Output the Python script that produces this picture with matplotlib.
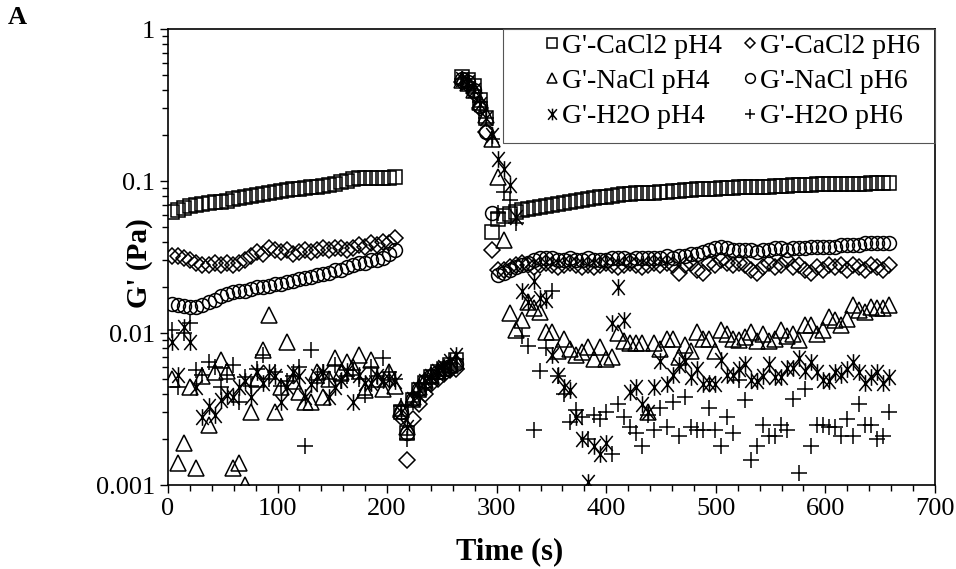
import matplotlib
matplotlib.use('Agg')
import matplotlib.pyplot as plt
import numpy as np
from matplotlib.path import Path
from matplotlib.patches import Rectangle
from matplotlib.ticker import FixedLocator, MultipleLocator, NullFormatter

plt.rcParams['font.family'] = ['Liberation Serif', 'DejaVu Serif']

# sampling times (s), one point every 5.5 s
time_s = np.arange(4, 660, 5.5)

# G' (Pa) for each sample
cacl2_ph4 = [0.063, 0.064, 0.066, 0.068, 0.070, 0.071, 0.072, 0.073, 0.073, 0.074,
             0.076, 0.077, 0.079, 0.080, 0.081, 0.082, 0.083, 0.085, 0.086, 0.087,
             0.088, 0.089, 0.090, 0.091, 0.092, 0.093, 0.094, 0.096, 0.098, 0.100,
             0.103, 0.104, 0.104, 0.104, 0.105, 0.105, 0.105, 0.106,
             0.0030, 0.0022, 0.0036, 0.0042, 0.0047, 0.0051, 0.0055, 0.0058, 0.0062, 0.0066,
             0.48, 0.46, 0.42, 0.34, 0.26, 0.046, 0.056, 0.059, 0.061, 0.063,
             0.064, 0.065, 0.066, 0.067, 0.069, 0.070, 0.071, 0.072, 0.073, 0.074,
             0.075, 0.076, 0.077, 0.078, 0.079, 0.080, 0.081, 0.082, 0.082, 0.083,
             0.083, 0.084, 0.084, 0.085, 0.085, 0.086, 0.086, 0.087, 0.087, 0.088,
             0.088, 0.089, 0.089, 0.090, 0.090, 0.090, 0.091, 0.091, 0.091, 0.092,
             0.092, 0.092, 0.093, 0.093, 0.093, 0.094, 0.094, 0.094, 0.094, 0.095,
             0.095, 0.095, 0.095, 0.096, 0.096, 0.096, 0.096, 0.096, 0.097, 0.097,
             0.097, 0.097]

cacl2_ph6 = [0.032, 0.032, 0.031, 0.030, 0.029, 0.028, 0.028, 0.029, 0.028, 0.029,
             0.028, 0.029, 0.030, 0.032, 0.034, 0.033, 0.036, 0.035, 0.034, 0.035,
             0.033, 0.034, 0.035, 0.034, 0.035, 0.036, 0.035, 0.036, 0.036, 0.035,
             0.036, 0.038, 0.037, 0.039, 0.038, 0.040, 0.039, 0.042,
             0.0028, 0.00145, 0.0027, 0.0034, 0.0040, 0.0046, 0.0050, 0.0054, 0.0057, 0.0058,
             0.45, 0.43, 0.38, 0.30, 0.21, 0.035, 0.026, 0.026, 0.027, 0.028,
             0.029, 0.028, 0.027, 0.028, 0.029, 0.028, 0.027, 0.028, 0.029, 0.028,
             0.027, 0.028, 0.027, 0.028, 0.029, 0.028, 0.027, 0.028, 0.029, 0.028,
             0.027, 0.028, 0.029, 0.028, 0.029, 0.028, 0.025, 0.028, 0.029, 0.026,
             0.025, 0.029, 0.028, 0.030, 0.029, 0.028, 0.029, 0.028, 0.026, 0.025,
             0.027, 0.029, 0.027, 0.028, 0.030, 0.027, 0.028, 0.026, 0.025, 0.027,
             0.026, 0.028, 0.027, 0.028, 0.026, 0.028, 0.027, 0.026, 0.028, 0.027,
             0.026, 0.028]

nacl_ph4 = [0.0050, 0.0014, 0.0019, 0.0044, 0.0013, 0.0052, 0.0025, 0.0055, 0.0066, 0.0056,
            0.0013, 0.0014, 0.0010, 0.0030, 0.0050, 0.0077, 0.0132, 0.0030, 0.0044, 0.0087,
            0.0048, 0.0041, 0.0035, 0.0035, 0.0055, 0.0038, 0.0050, 0.0068, 0.0055, 0.0064,
            0.0060, 0.0072, 0.0042, 0.0066, 0.0050, 0.0043, 0.0055, 0.0045,
            0.0032, 0.0024, 0.0038, 0.0044, 0.0049, 0.0053, 0.0056, 0.0059, 0.0062, 0.0065,
            0.46, 0.44, 0.40, 0.33, 0.27, 0.19, 0.106, 0.041, 0.0135, 0.0105,
            0.0122, 0.0160, 0.0145, 0.0138, 0.0102, 0.0102, 0.0076, 0.0091, 0.0078, 0.0072,
            0.0075, 0.0081, 0.0067, 0.0081, 0.0067, 0.0070, 0.0100, 0.0088, 0.0086, 0.0086,
            0.0086, 0.0030, 0.0086, 0.0078, 0.0091, 0.0091, 0.0070, 0.0084, 0.0076, 0.0102,
            0.0091, 0.0091, 0.0076, 0.0105, 0.0098, 0.0092, 0.0090, 0.0094, 0.0101, 0.0088,
            0.0098, 0.0088, 0.0092, 0.0105, 0.0095, 0.0098, 0.0090, 0.0113, 0.0113, 0.0098,
            0.0105, 0.0128, 0.0122, 0.0113, 0.0123, 0.0152, 0.0142, 0.0138, 0.0148, 0.0145,
            0.0145, 0.0152]

nacl_ph6 = [0.0155, 0.0152, 0.0150, 0.0148, 0.0148, 0.0152, 0.0160, 0.0165, 0.0175, 0.0180,
            0.0185, 0.0190, 0.0190, 0.0195, 0.0200, 0.0200, 0.0205, 0.0210, 0.0210, 0.0215,
            0.0220, 0.0225, 0.0230, 0.0235, 0.0240, 0.0245, 0.0250, 0.0260, 0.0260, 0.0270,
            0.0280, 0.0290, 0.0290, 0.0300, 0.0300, 0.0310, 0.0330, 0.0350,
            0.0030, 0.0022, 0.0037, 0.0043, 0.0048, 0.0052, 0.0055, 0.0058, 0.0061, 0.0063,
            0.47, 0.45, 0.40, 0.31, 0.21, 0.062, 0.024, 0.025, 0.026, 0.027,
            0.028, 0.029, 0.030, 0.031, 0.031, 0.031, 0.030, 0.030, 0.031, 0.030,
            0.030, 0.031, 0.030, 0.030, 0.030, 0.031, 0.031, 0.031, 0.030, 0.031,
            0.031, 0.031, 0.031, 0.031, 0.032, 0.031, 0.032, 0.032, 0.033, 0.033,
            0.034, 0.035, 0.036, 0.037, 0.036, 0.035, 0.035, 0.035, 0.035, 0.034,
            0.035, 0.035, 0.036, 0.036, 0.035, 0.036, 0.036, 0.036, 0.037, 0.037,
            0.037, 0.037, 0.037, 0.038, 0.038, 0.038, 0.038, 0.039, 0.039, 0.039,
            0.039, 0.039]

h2o_ph4 = [0.0087, 0.0053, 0.0109, 0.0087, 0.0044, 0.0028, 0.0033, 0.0029, 0.0036, 0.0039,
           0.0038, 0.0044, 0.0048, 0.0038, 0.0055, 0.0047, 0.0055, 0.0052, 0.0035, 0.0044,
           0.0055, 0.0052, 0.0038, 0.0046, 0.0052, 0.0055, 0.0038, 0.0044, 0.0049, 0.0056,
           0.0035, 0.0053, 0.0047, 0.0047, 0.0052, 0.0049, 0.0050, 0.0048,
           0.0030, 0.0024, 0.0037, 0.0043, 0.0048, 0.0052, 0.0056, 0.0060, 0.0065, 0.0072,
           0.47, 0.45, 0.40, 0.32, 0.26, 0.20, 0.14, 0.12, 0.094, 0.058,
           0.019, 0.016, 0.022, 0.017, 0.0166, 0.0072, 0.0053, 0.0044, 0.0042, 0.0028,
           0.0020, 0.00105, 0.0018, 0.0016, 0.0019, 0.0117, 0.020, 0.0122, 0.0041, 0.0044,
           0.0034, 0.0030, 0.0044, 0.0065, 0.0046, 0.0053, 0.0062, 0.0065, 0.0051, 0.0058,
           0.0046, 0.0047, 0.0046, 0.0066, 0.0053, 0.0053, 0.0058, 0.0063, 0.0049, 0.0048,
           0.0052, 0.0063, 0.0051, 0.0051, 0.0059, 0.0059, 0.0068, 0.0056, 0.0064, 0.0055,
           0.0049, 0.0048, 0.0055, 0.0053, 0.0058, 0.0064, 0.0055, 0.0047, 0.0051, 0.0055,
           0.0047, 0.0051]

h2o_ph6 = [0.0105, 0.0044, 0.0100, 0.0117, 0.0057, 0.0053, 0.0064, 0.0060, 0.0044, 0.0053,
           0.0062, 0.0035, 0.0051, 0.0045, 0.0058, 0.0072, 0.0050, 0.0055, 0.0045, 0.0048,
           0.0052, 0.0060, 0.0018, 0.0077, 0.0047, 0.0055, 0.0050, 0.0062, 0.0048, 0.0052,
           0.0057, 0.0050, 0.0039, 0.0060, 0.0052, 0.0069, 0.0055, 0.0050,
           0.0033, 0.0020, 0.0035, 0.0041, 0.0046, 0.0051, 0.0055, 0.0059, 0.0063, 0.0067,
           0.47, 0.45, 0.40, 0.33, 0.26, 0.19, 0.062, 0.085, 0.075, 0.053,
           0.0095, 0.0082, 0.0023, 0.0056, 0.0080, 0.019, 0.0052, 0.0040, 0.0026, 0.0031,
           0.0028, 0.0020, 0.0029, 0.0027, 0.0030, 0.0016, 0.0034, 0.0028, 0.0024, 0.0022,
           0.0018, 0.0029, 0.0023, 0.0032, 0.0024, 0.0035, 0.0021, 0.0038, 0.0024, 0.0023,
           0.0023, 0.0032, 0.0023, 0.0018, 0.0028, 0.0022, 0.0049, 0.0036, 0.00145, 0.0018,
           0.0025, 0.0021, 0.0021, 0.0025, 0.0023, 0.0037, 0.0012, 0.0043, 0.0018, 0.0025,
           0.0025, 0.0024, 0.0024, 0.0021, 0.0027, 0.0021, 0.0034, 0.0025, 0.0025, 0.0020,
           0.0021, 0.0030]

labels = ["G'-CaCl2 pH4", "G'-CaCl2 pH6", "G'-NaCl pH4",
          "G'-NaCl pH6", "G'-H2O pH4", "G'-H2O pH6"]

# asterisk marker: vertical bar plus an X
star = Path([(0, -1), (0, 1), (-0.75, -0.9), (0.75, 0.9), (-0.75, 0.9), (0.75, -0.9)],
            [Path.MOVETO, Path.LINETO] * 3)

series = [
    (cacl2_ph4, 's', 10),
    (cacl2_ph6, 'D', 8),
    (nacl_ph4, '^', 11),
    (nacl_ph6, 'o', 10),
    (h2o_ph4, star, 12),
    (h2o_ph6, '+', 11),
]

fig = plt.figure(figsize=(9.56, 5.69), dpi=100)
ax = fig.add_axes([0.1757, 0.1476, 0.8023, 0.8014])

handles = {}
for (vals, mk, ms), lab in zip(series, labels):
    ln, = ax.plot(time_s, vals, linestyle='none', marker=mk, markersize=ms,
                  markerfacecolor='none', markeredgecolor='black',
                  markeredgewidth=1.1, label=lab)
    handles[lab] = ln

ax.set_yscale('log')
ax.set_xlim(0, 700)
ax.set_ylim(0.001, 1)
ax.xaxis.set_major_locator(MultipleLocator(100))
ax.xaxis.set_minor_locator(MultipleLocator(20))
ax.yaxis.set_major_locator(FixedLocator([0.001, 0.01, 0.1, 1]))
ax.set_yticklabels(['0.001', '0.01', '0.1', '1'])
ax.yaxis.set_minor_formatter(NullFormatter())
ax.tick_params(which='both', direction='out', labelsize=19, top=False, right=False,
               width=1.0, color='black')
ax.tick_params(which='major', length=6)
ax.tick_params(which='minor', length=4)
for sp in ax.spines.values():
    sp.set_linewidth(1.2)
    sp.set_color('black')

ax.set_xlabel('Time (s)', fontsize=22, fontweight='bold')
ax.xaxis.set_label_coords(0.446, -0.115)
ax.set_ylabel("G' (Pa)", fontsize=21, fontweight='bold')
ax.yaxis.set_label_coords(-0.020, 0.486)

order = ["G'-CaCl2 pH4", "G'-NaCl pH4", "G'-H2O pH4",
         "G'-CaCl2 pH6", "G'-NaCl pH6", "G'-H2O pH6"]
leg = ax.legend([handles[k] for k in order], order, ncol=2, loc='upper left',
                bbox_to_anchor=(0.494, 0.99), borderaxespad=0, fontsize=20,
                markerscale=0.7, handlelength=0.4, handletextpad=0.15,
                columnspacing=0.8, frameon=False, borderpad=0, labelspacing=0.35)

# thin grey legend box, as wide as the original
ax.add_patch(Rectangle((0.4368, 0.75), 0.5632, 0.25, transform=ax.transAxes,
                       facecolor='none', edgecolor='#555555', linewidth=0.8,
                       zorder=4, clip_on=False))

fig.text(0.008, 0.958, 'A', fontsize=19, fontweight='bold')

fig.savefig('out.png', dpi=100)
